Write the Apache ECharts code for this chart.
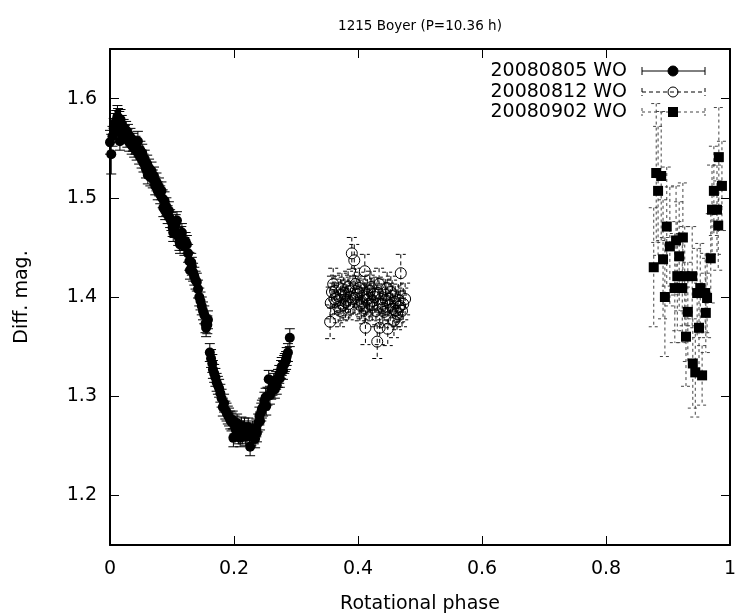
<!DOCTYPE html>
<html>
<head>
<meta charset="utf-8">
<title>1215 Boyer</title>
<script src="https://cdn.jsdelivr.net/npm/echarts@6/dist/echarts.min.js"></script>
<style>
  html, body { margin: 0; padding: 0; background: #fff; overflow: hidden; }
  #chart { width: 735px; height: 615px; }
</style>
</head>
<body>
<div id="chart"></div>
<script>
// rows are [phase, diff. mag, error]
var obs0805 = [
  [0.000, 1.556, 0.012], [0.002, 1.544, 0.020], [0.004, 1.562, 0.010], [0.006, 1.570, 0.010],
  [0.008, 1.575, 0.010], [0.010, 1.578, 0.010], [0.012, 1.582, 0.011], [0.013, 1.580, 0.010],
  [0.014, 1.566, 0.010], [0.015, 1.577, 0.010], [0.016, 1.557, 0.009], [0.017, 1.579, 0.010],
  [0.019, 1.574, 0.009], [0.020, 1.565, 0.009], [0.022, 1.570, 0.009], [0.024, 1.564, 0.009],
  [0.026, 1.568, 0.009], [0.028, 1.560, 0.009], [0.029, 1.565, 0.009], [0.031, 1.556, 0.009],
  [0.033, 1.561, 0.009], [0.035, 1.553, 0.009], [0.037, 1.556, 0.009], [0.039, 1.550, 0.009],
  [0.041, 1.553, 0.009], [0.043, 1.547, 0.009], [0.045, 1.557, 0.010], [0.047, 1.543, 0.009],
  [0.049, 1.548, 0.009], [0.051, 1.539, 0.009], [0.052, 1.545, 0.009], [0.054, 1.535, 0.009],
  [0.056, 1.539, 0.009], [0.058, 1.529, 0.009], [0.060, 1.534, 0.009], [0.061, 1.523, 0.009],
  [0.063, 1.530, 0.009], [0.065, 1.521, 0.009], [0.067, 1.527, 0.009], [0.069, 1.519, 0.009],
  [0.071, 1.522, 0.009], [0.073, 1.512, 0.009], [0.075, 1.516, 0.009], [0.077, 1.507, 0.009],
  [0.079, 1.511, 0.009], [0.081, 1.503, 0.009], [0.083, 1.507, 0.009], [0.085, 1.499, 0.009],
  [0.086, 1.490, 0.009], [0.088, 1.497, 0.009], [0.089, 1.487, 0.009], [0.091, 1.491, 0.009],
  [0.093, 1.483, 0.009], [0.095, 1.487, 0.009], [0.097, 1.479, 0.009], [0.099, 1.476, 0.009],
  [0.101, 1.470, 0.009], [0.102, 1.465, 0.009], [0.104, 1.469, 0.009], [0.106, 1.474, 0.009],
  [0.108, 1.477, 0.009], [0.110, 1.461, 0.009], [0.112, 1.456, 0.009], [0.113, 1.453, 0.009],
  [0.115, 1.462, 0.009], [0.116, 1.465, 0.009], [0.118, 1.456, 0.009], [0.120, 1.451, 0.009],
  [0.122, 1.456, 0.009], [0.124, 1.453, 0.009], [0.126, 1.444, 0.009], [0.128, 1.436, 0.009],
  [0.129, 1.427, 0.009], [0.131, 1.435, 0.009], [0.132, 1.431, 0.009], [0.134, 1.425, 0.009],
  [0.136, 1.421, 0.009], [0.138, 1.417, 0.009], [0.140, 1.415, 0.009], [0.142, 1.408, 0.009],
  [0.144, 1.400, 0.009], [0.146, 1.396, 0.009], [0.148, 1.391, 0.009], [0.150, 1.386, 0.009],
  [0.152, 1.382, 0.009], [0.154, 1.373, 0.009], [0.155, 1.369, 0.009], [0.157, 1.372, 0.009],
  [0.158, 1.377, 0.009], [0.161, 1.344, 0.009], [0.163, 1.338, 0.009], [0.165, 1.333, 0.009],
  [0.166, 1.327, 0.009], [0.168, 1.323, 0.009], [0.170, 1.319, 0.009], [0.172, 1.314, 0.009],
  [0.174, 1.311, 0.009], [0.176, 1.308, 0.009], [0.178, 1.303, 0.009], [0.180, 1.298, 0.009],
  [0.182, 1.289, 0.009], [0.184, 1.293, 0.009], [0.186, 1.286, 0.009], [0.188, 1.284, 0.009],
  [0.190, 1.281, 0.009], [0.192, 1.279, 0.009], [0.194, 1.276, 0.009], [0.196, 1.274, 0.009],
  [0.198, 1.276, 0.009], [0.199, 1.258, 0.009], [0.201, 1.271, 0.009], [0.203, 1.266, 0.009],
  [0.205, 1.273, 0.009], [0.207, 1.261, 0.009], [0.209, 1.266, 0.009], [0.210, 1.258, 0.009],
  [0.212, 1.270, 0.009], [0.214, 1.261, 0.009], [0.215, 1.266, 0.009], [0.217, 1.269, 0.009],
  [0.219, 1.259, 0.009], [0.221, 1.264, 0.009], [0.223, 1.269, 0.009], [0.225, 1.262, 0.009],
  [0.226, 1.249, 0.009], [0.228, 1.259, 0.009], [0.230, 1.266, 0.009], [0.232, 1.261, 0.009],
  [0.234, 1.257, 0.009], [0.236, 1.268, 0.009], [0.237, 1.263, 0.009], [0.239, 1.273, 0.009],
  [0.241, 1.280, 0.009], [0.242, 1.275, 0.009], [0.244, 1.284, 0.009], [0.245, 1.287, 0.009],
  [0.247, 1.289, 0.009], [0.249, 1.295, 0.009], [0.251, 1.299, 0.009], [0.252, 1.290, 0.009],
  [0.254, 1.300, 0.009], [0.256, 1.317, 0.009], [0.258, 1.301, 0.009], [0.260, 1.306, 0.009],
  [0.262, 1.310, 0.009], [0.264, 1.314, 0.009], [0.266, 1.307, 0.009], [0.268, 1.316, 0.009],
  [0.269, 1.311, 0.009], [0.271, 1.318, 0.009], [0.273, 1.322, 0.009], [0.274, 1.318, 0.009],
  [0.276, 1.327, 0.009], [0.277, 1.330, 0.009], [0.279, 1.326, 0.009], [0.281, 1.332, 0.009],
  [0.282, 1.334, 0.009], [0.284, 1.336, 0.009], [0.285, 1.340, 0.009], [0.287, 1.344, 0.009],
  [0.290, 1.359, 0.009]
];

var obs0812 = [
  [0.355, 1.375, 0.017], [0.356, 1.394, 0.016], [0.358, 1.405, 0.016], [0.360, 1.413, 0.016],
  [0.362, 1.398, 0.016], [0.363, 1.406, 0.016], [0.366, 1.399, 0.016], [0.368, 1.390, 0.016],
  [0.371, 1.386, 0.016], [0.372, 1.402, 0.016], [0.374, 1.408, 0.016], [0.376, 1.392, 0.016],
  [0.377, 1.404, 0.016], [0.379, 1.401, 0.016], [0.380, 1.395, 0.016], [0.382, 1.397, 0.016],
  [0.384, 1.410, 0.016], [0.385, 1.393, 0.016], [0.387, 1.406, 0.016], [0.388, 1.400, 0.016],
  [0.390, 1.444, 0.016], [0.392, 1.398, 0.016], [0.394, 1.437, 0.016], [0.395, 1.399, 0.016],
  [0.396, 1.413, 0.016], [0.398, 1.403, 0.016], [0.400, 1.405, 0.016], [0.402, 1.409, 0.016],
  [0.403, 1.392, 0.016], [0.405, 1.396, 0.016], [0.406, 1.394, 0.016], [0.408, 1.401, 0.016],
  [0.410, 1.389, 0.016], [0.411, 1.426, 0.017], [0.412, 1.369, 0.017], [0.414, 1.397, 0.016],
  [0.415, 1.402, 0.016], [0.416, 1.398, 0.016], [0.418, 1.393, 0.016], [0.419, 1.406, 0.016],
  [0.421, 1.410, 0.016], [0.423, 1.392, 0.016], [0.424, 1.396, 0.016], [0.426, 1.403, 0.016],
  [0.427, 1.400, 0.016], [0.429, 1.386, 0.016], [0.431, 1.355, 0.017], [0.432, 1.404, 0.016],
  [0.434, 1.413, 0.016], [0.435, 1.369, 0.017], [0.437, 1.398, 0.016], [0.439, 1.393, 0.016],
  [0.440, 1.389, 0.016], [0.442, 1.385, 0.016], [0.444, 1.402, 0.016], [0.445, 1.397, 0.016],
  [0.447, 1.409, 0.016], [0.448, 1.368, 0.017], [0.450, 1.398, 0.016], [0.452, 1.392, 0.016],
  [0.453, 1.405, 0.016], [0.455, 1.401, 0.016], [0.456, 1.388, 0.016], [0.458, 1.376, 0.017],
  [0.460, 1.395, 0.016], [0.461, 1.386, 0.016], [0.463, 1.383, 0.016], [0.465, 1.397, 0.016],
  [0.466, 1.390, 0.016], [0.468, 1.391, 0.016], [0.469, 1.424, 0.019], [0.471, 1.386, 0.016],
  [0.473, 1.393, 0.016], [0.476, 1.398, 0.016]
];

var obs0902 = [
  [0.877, 1.430, 0.060], [0.881, 1.525, 0.070], [0.884, 1.507, 0.065], [0.889, 1.522, 0.065],
  [0.892, 1.438, 0.060], [0.895, 1.400, 0.060], [0.898, 1.471, 0.060], [0.903, 1.451, 0.060],
  [0.911, 1.409, 0.055], [0.913, 1.457, 0.055], [0.915, 1.421, 0.055], [0.918, 1.441, 0.055],
  [0.923, 1.409, 0.055], [0.924, 1.460, 0.055], [0.927, 1.421, 0.050], [0.929, 1.360, 0.050],
  [0.932, 1.385, 0.050], [0.939, 1.421, 0.050], [0.940, 1.333, 0.045], [0.944, 1.324, 0.045],
  [0.947, 1.404, 0.045], [0.950, 1.369, 0.045], [0.952, 1.409, 0.045], [0.955, 1.321, 0.030],
  [0.960, 1.404, 0.040], [0.961, 1.384, 0.040], [0.963, 1.399, 0.040], [0.969, 1.439, 0.045],
  [0.971, 1.488, 0.045], [0.974, 1.507, 0.045], [0.979, 1.488, 0.045], [0.981, 1.472, 0.045],
  [0.982, 1.541, 0.050], [0.987, 1.512, 0.045]
];

var nightNames = ['20080805 WO', '20080812 WO', '20080902 WO'];
var chartTitle = '1215 Boyer (P=10.36 h)';

var FONT = '"DejaVu Sans", "Liberation Sans", Arial, sans-serif';

var looks = [
  { data: obs0805, symbol: 'circle', fill: '#000', stroke: '#000', dash: null },
  { data: obs0812, symbol: 'circle', fill: 'rgba(0,0,0,0)', stroke: '#000', dash: [4, 3] },
  { data: obs0902, symbol: 'rect', fill: '#000', stroke: '#444', dash: [3, 3] }
];

function errorBars (stroke, dash) {
  return function (params, api) {
    var x = api.value(0)
    var y = api.value(1)
    var e = api.value(2)
    var hi = api.coord([x, y + e])
    var lo = api.coord([x, y - e])
    var w = 5
    var style = { stroke: stroke, lineWidth: 1, lineDash: dash, fill: null }
    return {
      type: 'group',
      children: [
        { type: 'line', shape: { x1: hi[0], y1: hi[1], x2: lo[0], y2: lo[1] }, style: style },
        { type: 'line', shape: { x1: hi[0] - w, y1: hi[1], x2: hi[0] + w, y2: hi[1] }, style: style },
        { type: 'line', shape: { x1: lo[0] - w, y1: lo[1], x2: lo[0] + w, y2: lo[1] }, style: style }
      ]
    }
  }
}

var series = []
looks.forEach(function (s, i) {
  series.push({
    name: nightNames[i] + ' err',
    type: 'custom',
    silent: true,
    renderItem: errorBars(s.stroke, s.dash),
    encode: { x: 0, y: 1 },
    data: s.data
  })
  series.push({
    name: nightNames[i],
    type: 'scatter',
    silent: true,
    symbol: s.symbol,
    symbolSize: i === 1 ? 11 : 10,
    encode: { x: 0, y: 1 },
    itemStyle: { color: s.fill, borderColor: '#000', borderWidth: i === 1 ? 1 : 0, opacity: 1 },
    data: s.data
  })
})

// legend drawn by hand: gnuplot style error bar samples
var legendGraphics = []
var rowY = [71, 92, 112]
nightNames.forEach(function (name, i) {
  var s = looks[i]
  var y = rowY[i]
  var ls = { stroke: s.stroke, lineWidth: 1, lineDash: s.dash }
  legendGraphics.push({
    type: 'text', x: 627, y: y,
    style: { text: name, fill: '#000', font: '19px ' + FONT, textAlign: 'right', textVerticalAlign: 'middle' }
  })
  legendGraphics.push({ type: 'line', shape: { x1: 642, y1: y, x2: 705, y2: y }, style: ls })
  legendGraphics.push({ type: 'line', shape: { x1: 642, y1: y - 4, x2: 642, y2: y + 4 }, style: ls })
  legendGraphics.push({ type: 'line', shape: { x1: 705, y1: y - 4, x2: 705, y2: y + 4 }, style: ls })
  if (s.symbol === 'rect') {
    legendGraphics.push({ type: 'rect', shape: { x: 668, y: y - 5, width: 10, height: 10 }, style: { fill: '#000' } })
  } else {
    legendGraphics.push({
      type: 'circle', shape: { cx: 673, cy: y, r: 5 },
      style: { fill: i === 0 ? '#000' : 'rgba(0,0,0,0)', stroke: '#000', lineWidth: 1 }
    })
  }
})
legendGraphics.push({
  type: 'text', x: 420, y: 26,
  style: { text: chartTitle, fill: '#000', font: '13.5px ' + FONT, textAlign: 'center', textVerticalAlign: 'middle' }
})

var frameLine = { onZero: false, lineStyle: { color: '#000', width: 2 } }
var inTick = { inside: true, length: 9, lineStyle: { color: '#000', width: 1 } }
var tickFont = { margin: 15, fontSize: 19, color: '#000', fontFamily: FONT }

var option = {
  animation: false,
  backgroundColor: '#fff',
  grid: { left: 110, right: 5, top: 49, bottom: 70, containLabel: false, outerBoundsMode: 'none' },
  xAxis: [
    {
      type: 'value', min: 0, max: 1, interval: 0.2, position: 'bottom',
      name: 'Rotational phase', nameLocation: 'middle', nameGap: 50,
      nameTextStyle: { fontSize: 19, color: '#000', fontFamily: FONT },
      axisLine: frameLine, axisTick: inTick, axisLabel: tickFont, splitLine: { show: false }
    },
    {
      type: 'value', min: 0, max: 1, interval: 0.2, position: 'top',
      axisLine: frameLine, axisTick: inTick, axisLabel: { show: false }, splitLine: { show: false }
    }
  ],
  yAxis: [
    {
      type: 'value', min: 1.15, max: 1.65, splitNumber: 5, position: 'left',
      name: 'Diff. mag.', nameLocation: 'middle', nameGap: 78,
      nameTextStyle: { fontSize: 19, color: '#000', fontFamily: FONT },
      axisLine: frameLine, axisTick: inTick,
      axisLabel: { margin: 13, fontSize: 19, color: '#000', fontFamily: FONT, showMinLabel: false, showMaxLabel: false },
      splitLine: { show: false }
    },
    {
      type: 'value', min: 1.15, max: 1.65, splitNumber: 5, position: 'right',
      axisLine: frameLine, axisTick: inTick, axisLabel: { show: false }, splitLine: { show: false }
    }
  ],
  graphic: legendGraphics,
  series: series
}

var chart = echarts.init(document.getElementById('chart'))
chart.setOption(option)
window.onresize = function () { chart.resize() }
</script>
</body>
</html>
